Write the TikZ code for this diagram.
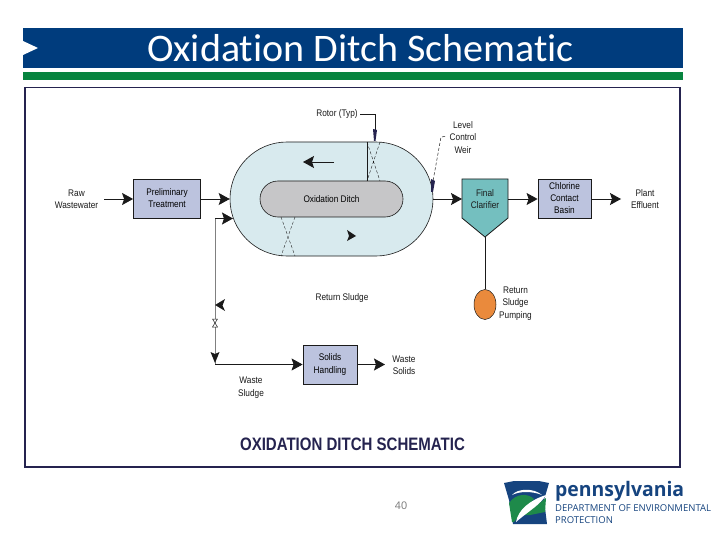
\documentclass[tikz,border=0pt]{standalone}
\usepackage{fontspec}
\setmainfont{Liberation Sans}
\newfontfamily\titlefont[Ligatures=NoCommon,Contextuals=NoAlternate]{Carlito}
\newfontfamily\logofont{Open Sans}
\usetikzlibrary{arrows.meta,shapes.misc,shapes.geometric}
\definecolor{hdrblue}{HTML}{003C7D}
\definecolor{hdrgreen}{HTML}{07843F}
\definecolor{framec}{HTML}{25234F}
\definecolor{boxfill}{HTML}{BCC3DE}
\definecolor{ditchfill}{HTML}{D8EAEE}
\definecolor{coref}{HTML}{C6C6C8}
\definecolor{clarfill}{HTML}{74BFBF}
\definecolor{pumpfill}{HTML}{EA8A3C}
\definecolor{inkc}{HTML}{1A1A1A}
\definecolor{logogreen}{HTML}{1E8A4A}
\definecolor{logoblue}{HTML}{16447F}
\tikzset{
  lab/.style={font=\fontsize{9.6}{12.4}\selectfont, text=inkc, align=center, inner sep=0pt, xscale=0.86},
  procbox/.style={draw=inkc, line width=0.8pt, fill=boxfill, minimum height=39pt, inner sep=0pt, align=center, font=\fontsize{9.6}{12.4}\selectfont},
  flow/.style={draw=inkc, line width=0.9pt, -{Stealth[length=11pt,width=12pt,inset=2pt]}},
  plain/.style={draw=inkc, line width=0.9pt},
  rotor/.style={draw=inkc, line width=0.35pt, densely dashed},
  blob/.style={fill=framec, draw=none},
}
\begin{document}
\begin{tikzpicture}[x=1pt,y=-1pt]
\useasboundingbox (0,0) rectangle (720,540);
\fill[white] (0,0) rectangle (720,540);
% header
\fill[hdrblue] (23,28) rectangle (683,68);
\fill[white] (23,41) -- (38,48) -- (23,55) -- cycle;
\fill[hdrgreen] (23,72) rectangle (683,80);
\node[text=white, font=\titlefont\fontsize{39}{42}\selectfont, inner sep=0pt, xscale=1.026] (title) at (360.5,48) {Oxidation Ditch Schematic};
\draw[framec, line width=1.1pt, fill=white] (25,87.5) rectangle (680,467);
% ditch
\node[rounded rectangle, draw=inkc, line width=0.6pt, fill=ditchfill, minimum width=203pt, minimum height=114pt, inner sep=0pt] (ditch) at (331.5,199) {};
\node[rounded rectangle, draw=inkc, line width=0.6pt, fill=coref, minimum width=143pt, minimum height=36pt, inner sep=0pt, font=\fontsize{9.6}{12}\selectfont] (core) at (331.5,199) {\scalebox{0.86}[1]{Oxidation Ditch}};
% rotors
\coordinate (rt1) at (367,142); \coordinate (rt2) at (380,142);
\coordinate (rb1) at (367,181); \coordinate (rb2) at (380,181);
\draw[rotor] (rt1) -- (rb2) (rt2) -- (rb1);
\draw[plain] (rt1) -- (rb1);
\coordinate (rc1) at (281,217); \coordinate (rc2) at (295,217);
\coordinate (rd1) at (281,256); \coordinate (rd2) at (295,256);
\draw[rotor] (rc1) -- (rd2) (rc2) -- (rd1);
% flow marks in ditch
\coordinate (fa) at (334,162); \coordinate (fb) at (303,162);
\draw[flow] (fa) -- (fb);
\fill[inkc] (347,230) -- (356,236) -- (347,241) -- (349,236) -- cycle;
% boxes
\node[procbox, minimum width=67pt] (prelim) at (167,199) {\scalebox{0.86}[1]{\begin{tabular}{@{}c@{}}Preliminary\\Treatment\end{tabular}}};
\node[procbox, minimum width=53pt] (chlor) at (564.5,199) {\scalebox{0.86}[1]{\begin{tabular}{@{}c@{}}Chlorine\\Contact\\Basin\end{tabular}}};
\node[procbox, minimum width=54pt] (solids) at (330,364.5) {\scalebox{0.86}[1]{\begin{tabular}{@{}c@{}}Solids\\Handling\end{tabular}}};
% clarifier
\draw[inkc, line width=0.8pt, fill=clarfill] (462,179) -- (508,179) -- (508,218) -- (485,237) -- (462,218) -- cycle;
\coordinate (clarL) at (462,199); \coordinate (clarR) at (508,199); \coordinate (clarB) at (485,237);
\node[lab] (clart) at (485,199) {Final\\Clarifier};
% pump
\node[ellipse, draw=inkc, line width=0.5pt, fill=pumpfill, minimum width=22pt, minimum height=30pt, inner sep=0pt] (pump) at (485,304.5) {};
% text labels
\node[lab] (raw) at (76.5,199) {Raw\\Wastewater};
\node[lab] (eff) at (645,199) {Plant\\Effluent};
\node[lab] (rtl) at (337,114) {Rotor (Typ)};
\node[lab] (lcw) at (463,137.5) {Level\\Control\\Weir};
\node[lab] (rsp) at (515.5,303.5) {Return\\Sludge\\Pumping};
\node[lab] (rsl) at (342,298) {Return Sludge};
\node[lab] (wsl) at (251,387.5) {Waste\\Sludge};
\node[lab] (wso) at (404,365) {Waste\\Solids};
% process connectors
\coordinate (rawr) at (104,199); \coordinate (effl) at (621,199);
\draw[flow] (rawr) -- (prelim.west);
\draw[flow] (prelim.east) -- (ditch.west);
\draw[flow] (ditch.east) -- (clarL);
\draw[flow] (clarR) -- (chlor.west);
\draw[flow] (chlor.east) -- (effl);
\draw[plain] (clarB) -- (pump.north);
\coordinate (sr) at (385,364.5);
\draw[flow] (solids.east) -- (sr);
% return line
\coordinate (c1) at (215,218.5); \coordinate (c2) at (233,218.5);
\coordinate (c3) at (215,364.5); \coordinate (v1) at (215,319); \coordinate (v2) at (215,327);
\draw[gray, line width=0.8pt] (c1) -- (v1) (v2) -- (c3);
\draw[flow] (c1) -- (c2);
\draw[flow] (c3) -- (solids.west);
\draw[inkc, line width=0.5pt] (212.5,319) -- (217.5,319) -- (212.5,327) -- (217.5,327) -- cycle;
\fill[inkc] (215,305) -- (225,299) -- (222.5,305.5) -- (225,311) -- cycle;
\fill[inkc] (210.5,352) -- (215,354) -- (219.5,352) -- (215,363) -- cycle;
% rotor and weir leaders
\coordinate (lr0) at (360,114); \coordinate (lr1) at (375,114); \coordinate (lr2) at (375,131);
\draw[inkc, line width=0.6pt] (lr0) -- (lr1) -- (lr2);
\fill[blob] (373,129) -- (377,130) -- (375.5,141) -- (374,141) -- cycle;
\coordinate (lw0) at (445,136.5); \coordinate (lw1) at (441,137); \coordinate (lw2) at (433,181);
\draw[inkc, line width=0.5pt, densely dashed] (lw0) -- (lw1) -- (lw2);
\fill[blob] (431,179) -- (435,181) -- (433,192) -- (431,192) -- cycle;
% bottom title
\node[font=\bfseries\fontsize{18}{20}\selectfont, text=framec, inner sep=0pt, xscale=0.835] (bt) at (352.5,444) {OXIDATION DITCH SCHEMATIC};
\node[text=gray, font=\fontsize{11}{13}\selectfont, inner sep=0pt] (pg) at (401,506) {40};
% logo
\fill[logoblue] (504,483) -- (514,481) -- (539,481) -- (549,483) -- (544,500) -- (547,524) -- (513,524) -- (509,500) -- cycle;
\fill[logogreen] (509,503) .. controls (516,493) and (528,493) .. (534,499) -- (514,522) -- (512,522) -- cycle;
\fill[logogreen] (524,515) -- (546,498) -- (545,512) -- (530,515) -- cycle;
\fill[white] (516,522) .. controls (518,510) and (530,500) .. (546,495) .. controls (540,505) and (530,510) .. (516,522) -- cycle;
\fill[white] (512,495) .. controls (518,488) and (534,488) .. (542,495) .. controls (532,491) and (520,491) .. (512,495) -- cycle;
\node[font=\logofont\bfseries\fontsize{20}{22}\selectfont, text=logoblue, inner sep=0pt, anchor=west, xscale=0.97] (lg1) at (555,491.5) {pennsylvania};
\node[font=\logofont\fontsize{9.5}{10}\selectfont, text=logoblue, inner sep=0pt, anchor=west] (lg2) at (555,508) {DEPARTMENT OF ENVIRONMENTAL};
\node[font=\logofont\fontsize{9.5}{10}\selectfont, text=logoblue, inner sep=0pt, anchor=west] (lg3) at (555,520) {PROTECTION};
\end{tikzpicture}
\end{document}
